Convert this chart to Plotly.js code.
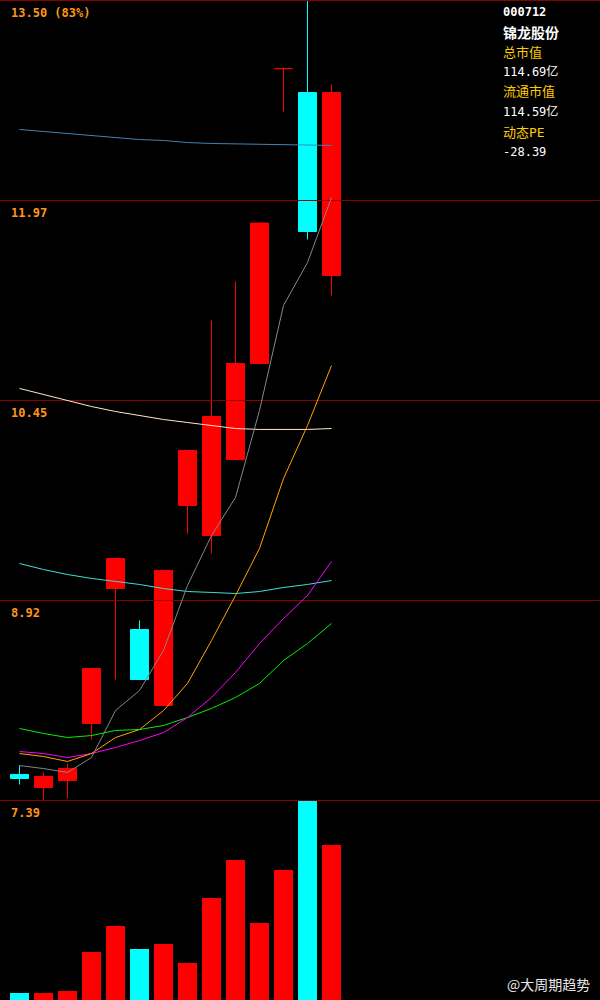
<!DOCTYPE html>
<html>
<head>
<meta charset="utf-8">
<script src="https://cdn.plot.ly/plotly-3.0.1.min.js"></script>
<style>
html,body{margin:0;padding:0;background:#000;}
#chart{width:600px;height:1000px;}
</style>
</head>
<body>
<div id="chart"></div>
<script>
// ---- data ----
var days = [1,2,3,4,5,6,7,8,9,10,11,12,13,14];
var open  = [7.589, 7.489, 7.543, 7.978, 9.009, 8.696, 8.116, 9.643, 9.414, 9.994, 10.728, 12.98, 12.797, 11.40];
var close = [7.558, 7.573, 7.634, 8.398, 9.238, 8.314, 9.147, 10.063, 10.323, 10.728, 11.80, 12.98, 11.736, 12.797];
var high  = [7.657, 7.604, 7.673, 8.398, 9.238, 8.765, 9.147, 10.063, 11.056, 11.354, 11.80, 12.98, 13.50, 12.858];
var low   = [7.512, 7.39, 7.405, 7.856, 8.314, 8.314, 8.116, 9.429, 9.276, 9.987, 10.728, 12.652, 11.675, 11.247];
var volume = [7, 7, 9, 48, 74, 51, 56, 37, 102, 140, 77, 130, 199, 155];

var ma5   = [7.657, 7.634, 7.604, 7.718, 8.077, 8.230, 8.536, 9.032, 9.414, 9.704, 10.369, 11.171, 11.499, 11.995];
var ma10  = [7.749, 7.726, 7.688, 7.749, 7.871, 7.932, 8.077, 8.284, 8.612, 8.956, 9.315, 9.849, 10.254, 10.712];
var ma20  = [7.764, 7.749, 7.718, 7.749, 7.795, 7.848, 7.909, 8.024, 8.177, 8.368, 8.589, 8.780, 8.956, 9.215];
var ma30  = [7.940, 7.902, 7.871, 7.886, 7.925, 7.932, 7.963, 8.024, 8.093, 8.177, 8.284, 8.459, 8.589, 8.742];
var ma60  = [9.200, 9.154, 9.116, 9.086, 9.063, 9.040, 9.009, 8.986, 8.979, 8.971, 8.986, 9.017, 9.040, 9.070];
var ma120 = [10.537, 10.491, 10.445, 10.399, 10.361, 10.330, 10.300, 10.277, 10.254, 10.231, 10.224, 10.224, 10.224, 10.231];
var ma250 = [12.515, 12.500, 12.484, 12.469, 12.454, 12.438, 12.431, 12.415, 12.408, 12.404, 12.400, 12.396, 12.393, 12.393];

// price levels of the horizontal guide lines (equally spaced) and their labels
var levels = [13.50, 11.9725, 10.445, 8.9175, 7.39];
var levelLabels = ['13.50 (83%)', '11.97', '10.45', '8.92', '7.39'];

var infoLines = ['000712', '锦龙股份', '总市值', '114.69亿', '流通市值', '114.59亿', '动态PE', '-28.39'];
var infoKinds = ['code', 'name', 'key', 'val', 'key', 'val', 'key', 'val'];

var UP = '#ff0000', DOWN = '#00ffff';
var GRID = '#8c0000';

// ---- axes geometry ----
var xRange = [1 - 19.5 / 24, 1 + 580.5 / 24];
var pxPrice = (levels[0] - levels[levels.length - 1]) / 800;      // price per pixel
var yTop = levels[0] + 0.5 * pxPrice;                               // half-pixel offset for crisp lines
var yRange = [yTop - 801 * pxPrice, yTop];

// ---- traces ----
var traces = [];
traces.push({
  type: 'candlestick', x: days, open: open, high: high, low: low, close: close,
  xaxis: 'x', yaxis: 'y',
  increasing: {line: {color: UP, width: 1}, fillcolor: UP},
  decreasing: {line: {color: DOWN, width: 1}, fillcolor: DOWN},
  whiskerwidth: 0, hoverinfo: 'skip'
});

// guide lines (above candles, below moving averages)
levels.forEach(function (v) {
  traces.push({type: 'scatter', mode: 'lines', x: xRange, y: [v, v], xaxis: 'x', yaxis: 'y',
    line: {color: GRID, width: 1}, hoverinfo: 'skip'});
});

var maDefs = [
  [ma250, '#4682b4'], [ma120, '#ffe8cc'], [ma60, '#40e0d0'], [ma30, '#00f000'],
  [ma20, '#ff00ff'], [ma10, '#ffa500'], [ma5, '#888888']
];
maDefs.forEach(function (d) {
  traces.push({type: 'scatter', mode: 'lines', x: days, y: d[0], xaxis: 'x', yaxis: 'y',
    line: {color: d[1], width: 1}, hoverinfo: 'skip'});
});

traces.push({
  type: 'bar', x: days, y: volume, xaxis: 'x', yaxis: 'y2', width: 0.79,
  marker: {color: close.map(function (c, i) { return c >= open[i] ? UP : DOWN; }), line: {width: 0}},
  hoverinfo: 'skip'
});

// ---- annotations ----
var ann = [];
levels.forEach(function (v, i) {
  ann.push({xref: 'paper', yref: 'y', x: 0, y: v, xanchor: 'left', yanchor: 'top',
    xshift: 9, yshift: -3, showarrow: false, text: levelLabels[i],
    font: {family: 'DejaVu Sans Mono', size: 12, color: '#ff951a', weight: 'bold'}});
});
infoLines.forEach(function (t, i) {
  var k = infoKinds[i];
  var f;
  if (k === 'code') f = {family: 'DejaVu Sans Mono', size: 12, color: '#ffffff', weight: 'bold'};
  else if (k === 'name') f = {family: 'Noto Sans CJK SC', size: 14, color: '#ffffff', weight: 'bold'};
  else if (k === 'key') f = {family: 'DejaVu Sans Mono, Noto Sans CJK SC', size: 13, color: '#ffcc00'};
  else f = {family: 'DejaVu Sans Mono, Noto Sans CJK SC', size: 12, color: '#ffffff'};
  ann.push({xref: 'paper', yref: 'paper', x: 501 / 600, y: 1 - (12 + 20 * i) / 1000,
    xanchor: 'left', yanchor: 'middle', showarrow: false, text: t, font: f});
});
ann.push({xref: 'paper', yref: 'paper', x: 592 / 600, y: 1 - 984 / 1000, xanchor: 'right', yanchor: 'middle',
  showarrow: false, text: '@大周期趋势', font: {family: 'Noto Sans CJK SC', size: 14, color: '#e6e6e6'}});

var layout = {
  width: 600, height: 1000,
  margin: {l: 0, r: 0, t: 0, b: 0},
  paper_bgcolor: '#000000', plot_bgcolor: 'rgba(0,0,0,0)',
  showlegend: false,
  boxgap: 0.25, boxgroupgap: 0,
  xaxis: {range: xRange, visible: false, showgrid: false, zeroline: false,
    rangeslider: {visible: false}, fixedrange: true},
  yaxis: {domain: [0.199, 1], range: yRange, showticklabels: false,
    showgrid: false, zeroline: false, showline: false, ticks: ''},
  yaxis2: {domain: [0, 0.2], range: [0, 200], showgrid: false, showticklabels: false,
    zeroline: false, showline: false, ticks: ''},
  annotations: ann
};

Plotly.newPlot('chart', traces, layout, {displayModeBar: false, staticPlot: true});
</script>
</body>
</html>
